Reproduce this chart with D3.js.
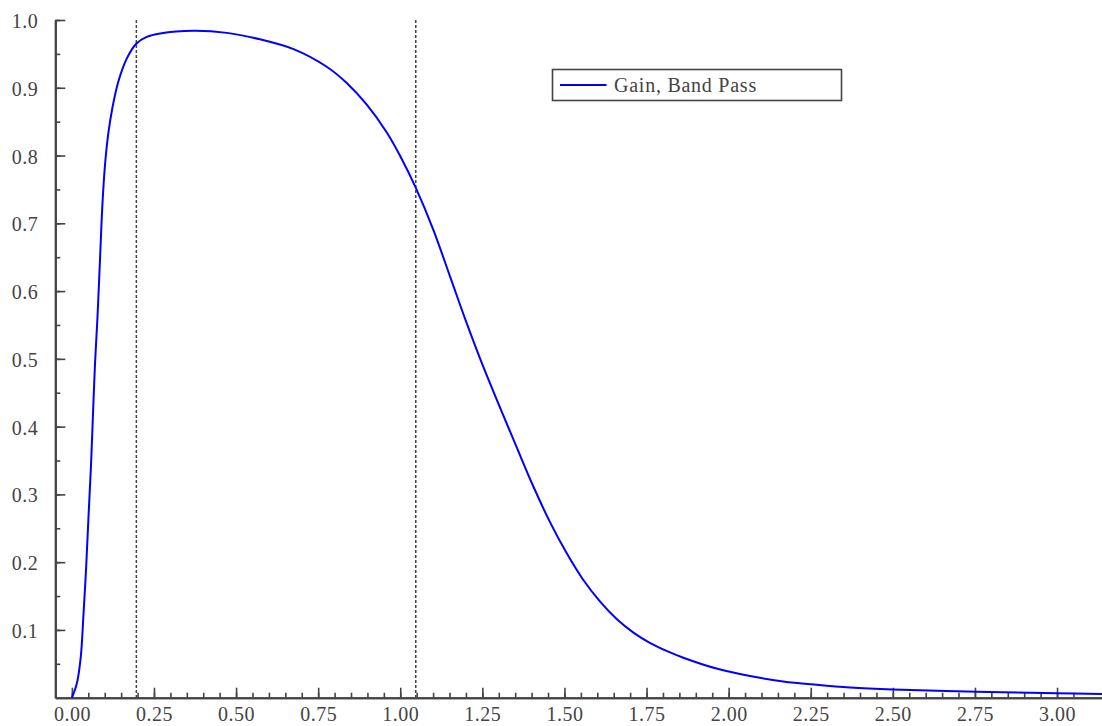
<!DOCTYPE html>
<html>
<head>
<meta charset="utf-8">
<script src="https://cdn.jsdelivr.net/npm/d3@7"></script>
<style>
  html, body { margin: 0; padding: 0; background: #fff; }
  svg { display: block; }
</style>
</head>
<body>
<svg id="chart" width="1102" height="726"></svg>
<script>
// ---- data ----
const freq = [0, 0.015, 0.027, 0.035, 0.0435, 0.0506, 0.058, 0.064, 0.070, 0.078, 0.086, 0.093, 0.101, 0.111, 0.124, 0.142, 0.167, 0.196, 0.228, 0.269, 0.370, 0.472, 0.573, 0.675, 0.776, 0.837, 0.898, 0.959, 0.999, 1.047, 1.101, 1.152, 1.202, 1.253, 1.304, 1.355, 1.405, 1.456, 1.507, 1.557, 1.608, 1.659, 1.710, 1.760, 1.811, 1.862, 1.963, 2.065, 2.166, 2.268, 2.369, 2.50, 2.755, 3.0, 3.14];
const gain = [0, 0.021, 0.060, 0.12, 0.193, 0.267, 0.341, 0.415, 0.488, 0.562, 0.651, 0.728, 0.787, 0.833, 0.872, 0.910, 0.943, 0.965, 0.975, 0.980, 0.984, 0.981, 0.9715, 0.957, 0.931, 0.907, 0.875, 0.834, 0.800, 0.7526, 0.690, 0.621, 0.553, 0.488, 0.428, 0.369, 0.312, 0.259, 0.213, 0.174, 0.142, 0.116, 0.096, 0.081, 0.069, 0.059, 0.043, 0.032, 0.024, 0.019, 0.015, 0.012, 0.0089, 0.0066, 0.0055];
const cutoffs = [Math.PI / 16, Math.PI / 3];
const xMajorTicks = [0, 0.25, 0.5, 0.75, 1.0, 1.25, 1.5, 1.75, 2.0, 2.25, 2.5, 2.75, 3.0];
const yMajorTicks = [0.1, 0.2, 0.3, 0.4, 0.5, 0.6, 0.7, 0.8, 0.9, 1.0];
const seriesName = "Gain, Band Pass";

// ---- layout ----
const svg = d3.select("#chart");
const axisColor = "#444";
const fontFam = "'Liberation Serif', 'Times New Roman', Times, serif";
const plotLeft = 55.3, plotRight = 1103, plotTop = 20, plotBottom = 697.7;
const x = d3.scaleLinear().domain([-0.0505, 3.14]).range([plotLeft, plotRight]);
const y = d3.scaleLinear().domain([0, 1]).range([plotBottom, plotTop]);

const xMinor = d3.range(0, 62).map(i => +(i * 0.05).toFixed(2)).filter(v => v <= 3.13);
const yMinor = d3.range(1, 21).map(i => +(i * 0.05).toFixed(2));

svg.append("rect").attr("width", 1102).attr("height", 726).attr("fill", "#fff");

// minor ticks
const gxm = svg.append("g").attr("transform", `translate(0,${plotBottom})`)
  .call(d3.axisBottom(x).tickValues(xMinor).tickSize(-5).tickSizeOuter(0).tickFormat(""));
const gym = svg.append("g").attr("transform", `translate(${plotLeft},0)`)
  .call(d3.axisLeft(y).tickValues(yMinor).tickSize(-5).tickSizeOuter(0).tickFormat(""));

// major ticks with labels
const gx = svg.append("g").attr("transform", `translate(0,${plotBottom})`)
  .call(d3.axisBottom(x).tickValues(xMajorTicks).tickSize(-10).tickSizeOuter(0).tickPadding(9)
    .tickFormat(d3.format(".2f")));
const gy = svg.append("g").attr("transform", `translate(${plotLeft},0)`)
  .call(d3.axisLeft(y).tickValues(yMajorTicks).tickSize(-10).tickSizeOuter(0).tickPadding(17)
    .tickFormat(d3.format(".1f")));

[gxm, gym, gx, gy].forEach(g => {
  g.attr("font-family", fontFam).attr("font-size", 20);
  g.selectAll("path.domain").attr("stroke", axisColor).attr("stroke-width", 2);
  g.selectAll(".tick line").attr("stroke", axisColor).attr("stroke-width", 1.6);
  g.selectAll(".tick text").attr("fill", axisColor).attr("letter-spacing", 0.5);
});
gy.selectAll(".tick text").attr("dy", "0.38em");

// cutoff dashed lines
svg.append("g").selectAll("line").data(cutoffs).join("line")
  .attr("x1", d => x(d)).attr("x2", d => x(d))
  .attr("y1", y(1)).attr("y2", y(0))
  .attr("stroke", axisColor).attr("stroke-width", 1.5)
  .attr("stroke-dasharray", "3,2");

// curve
const line = d3.line().x((d, i) => x(freq[i])).y(d => y(d)).curve(d3.curveCatmullRom.alpha(0.5));
svg.append("path").datum(gain)
  .attr("d", line)
  .attr("fill", "none").attr("stroke", "#0000ff").attr("stroke-width", 2);

// legend
const lg = svg.append("g").attr("transform", "translate(552.5,69.5)");
lg.append("rect").attr("width", 289).attr("height", 31)
  .attr("fill", "#fff").attr("stroke", axisColor).attr("stroke-width", 1.6);
lg.append("line").attr("x1", 7.5).attr("x2", 54).attr("y1", 15.5).attr("y2", 15.5)
  .attr("stroke", "#0000ff").attr("stroke-width", 2);
lg.append("text").attr("x", 61.5).attr("y", 22.5)
  .attr("font-family", fontFam).attr("font-size", 20)
  .attr("fill", axisColor).attr("letter-spacing", 0.75)
  .text(seriesName);
</script>
</body>
</html>
